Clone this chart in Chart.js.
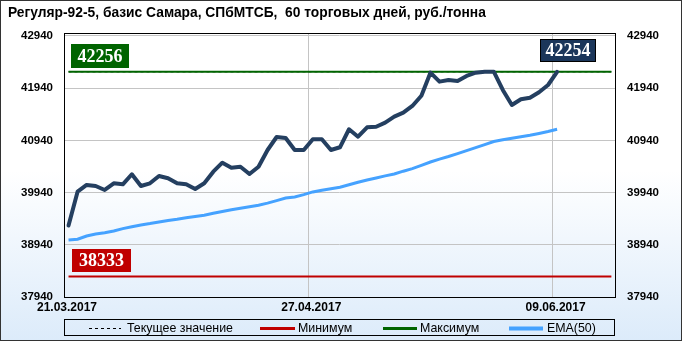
<!DOCTYPE html>
<html><head><meta charset="utf-8">
<script src="https://cdn.jsdelivr.net/npm/chart.js@4.4.1/dist/chart.umd.min.js"></script>
<style>html,body{margin:0;padding:0;background:#fff}#wrap{width:682px;height:341px;position:relative}</style>
</head><body><div id="wrap"><canvas id="c" width="682" height="341"></canvas></div>
<script>
const titleText = 'Регуляр-92-5, базис Самара, СПбМТСБ,  60 торговых дней, руб./тонна';
const dateLabels = ['21.03.2017', '27.04.2017', '09.06.2017'];
const dateTickPos = [-0.5, 26.5, 53.5];
const yTicks = [37940, 38940, 39940, 40940, 41940, 42940];
const price = [39310, 39957, 40086, 40066, 39990, 40118, 40099, 40291, 40066, 40118,
  40258, 40214, 40118, 40099, 40009, 40118, 40340, 40513, 40417, 40436,
  40296, 40436, 40756, 41005, 40986, 40756, 40756, 40961, 40961, 40756,
  40808, 41153, 41011, 41191, 41202, 41279, 41394, 41471, 41599, 41796,
  42237, 42065, 42097, 42078, 42174, 42237, 42256, 42256, 41906, 41618,
  41727, 41758, 41861, 42001, 42254];
const ema50 = [39032, 39047, 39109, 39145, 39170, 39204, 39250, 39287, 39321, 39346,
  39377, 39407, 39429, 39459, 39484, 39507, 39543, 39578, 39610, 39639,
  39668, 39697, 39739, 39787, 39837, 39856, 39900, 39953, 39986, 40013,
  40042, 40091, 40137, 40181, 40220, 40260, 40296, 40350, 40398, 40461,
  40526, 40582, 40632, 40687, 40745, 40802, 40860, 40919, 40951, 40980,
  41009, 41038, 41072, 41109, 41153];
const maxValue = 42256;
const minValue = 38333;
const currentValue = 42254;
const levelSpan = [0, 60];
const legendLabels = ['Текущее значение', 'Минимум', 'Максимум', 'EMA(50)'];

const C_MAIN = '#243f60', C_EMA = '#45a2ff', C_MAX = '#006400', C_MIN = '#c00000';

const pts = arr => arr.map((v, i) => ({x: i, y: v}));
const level = v => levelSpan.map(x => ({x, y: v}));

const bgPlugin = {
  id: 'bg',
  beforeDraw(chart) {
    const ctx = chart.ctx, W = chart.width, H = chart.height;
    ctx.save();
    const g = ctx.createLinearGradient(0, 0, 0, H);
    g.addColorStop(0, '#ffffff');
    g.addColorStop(0.5, '#ffffff');
    g.addColorStop(1, '#dcebfa');
    ctx.fillStyle = g;
    ctx.fillRect(0, 0, W, H);
    ctx.strokeStyle = '#333';
    ctx.lineWidth = 1;
    ctx.strokeRect(0.5, 0.5, W - 1, H - 1);
    ctx.fillStyle = '#000';
    ctx.font = 'bold 13.8px "Liberation Sans", Arial, sans-serif';
    ctx.textBaseline = 'middle';
    ctx.textAlign = 'left';
    ctx.fillText(titleText, 8, 13);
    ctx.restore();
  },
  afterDraw(chart) {
    const ctx = chart.ctx, a = chart.chartArea;
    ctx.save();
    ctx.strokeStyle = '#000';
    ctx.lineWidth = 1;
    ctx.strokeRect(Math.round(a.left) + 0.5, Math.round(a.top) + 0.5, Math.round(a.right - a.left), Math.round(a.bottom - a.top));
    // legend
    const lx = 64, ly = 319.5, lw = 550, lh = 16;
    ctx.strokeRect(lx + 0.5, ly, lw, lh);
    const cy = 328;
    ctx.font = '12.4px "Liberation Sans", Arial, sans-serif';
    ctx.textBaseline = 'middle';
    ctx.textAlign = 'left';
    const items = [
      {x1: 89, x2: 121, tx: 127, color: '#000', w: 1, dash: [3, 3]},
      {x1: 260, x2: 295, tx: 298, color: C_MIN, w: 3, dash: []},
      {x1: 383, x2: 417, tx: 420, color: C_MAX, w: 3, dash: []},
      {x1: 509, x2: 543, tx: 547, color: C_EMA, w: 4, dash: []}
    ];
    items.forEach((it, i) => {
      ctx.beginPath();
      ctx.setLineDash(it.dash);
      ctx.strokeStyle = it.color;
      ctx.lineWidth = it.w;
      ctx.moveTo(it.x1, cy + 0.5);
      ctx.lineTo(it.x2, cy + 0.5);
      ctx.stroke();
      ctx.setLineDash([]);
      ctx.fillStyle = '#000';
      ctx.fillText(legendLabels[i], it.tx, cy + 1);
    });
    ctx.restore();
  },
  afterDatasetsDraw(chart) {
    const ctx = chart.ctx, a = chart.chartArea;
    const xs = chart.scales.x, ys = chart.scales.y;
    ctx.save();
    ctx.font = 'bold 18px "Liberation Serif", "Times New Roman", serif';
    ctx.textAlign = 'center';
    ctx.textBaseline = 'middle';
    const box = (x, yb, w, h, fill, text, border) => {
      ctx.fillStyle = fill;
      ctx.fillRect(x, yb - h, w, h);
      if (border) { ctx.strokeStyle = '#000'; ctx.lineWidth = 1; ctx.strokeRect(x + 0.5, yb - h + 0.5, w - 1, h - 1); }
      ctx.fillStyle = '#fff';
      ctx.fillText(text, x + w / 2, yb - h / 2 + 1);
    };
    box(a.left + 7, Math.round(ys.getPixelForValue(maxValue)) - 4, 58, 24, C_MAX, String(maxValue));
    box(a.left + 8, Math.round(ys.getPixelForValue(minValue)) - 4, 59, 23, C_MIN, String(minValue));
    const li = price.length - 1;
    const px = xs.getPixelForValue(li), py = ys.getPixelForValue(price[li]);
    box(Math.round(px) - 17, Math.round(py) - 10, 56, 23, '#1b365a', String(currentValue), true);
    ctx.restore();
  }
};

const yMin = yTicks[0];
const yMax = yTicks[yTicks.length - 1] + 57;
const tickFont = {family: '"Liberation Sans", Arial, sans-serif', size: 11.5, weight: 'bold'};
const gridDash = {color: '#c4c4c4', lineWidth: 1, borderDash: [4, 3], drawTicks: false};

new Chart(document.getElementById('c'), {
  type: 'line',
  data: {
    datasets: [
      {label: 'price', data: pts(price), borderColor: C_MAIN, borderWidth: 4, pointRadius: 0, tension: 0, borderJoinStyle: 'round', borderCapStyle: 'round', order: 0},
      {label: legendLabels[3], data: pts(ema50), borderColor: C_EMA, borderWidth: 3, pointRadius: 0, tension: 0, order: 1},
      {label: legendLabels[2], data: level(maxValue), borderColor: C_MAX, borderWidth: 2, pointRadius: 0, order: 2},
      {label: legendLabels[1], data: level(minValue), borderColor: C_MIN, borderWidth: 2, pointRadius: 0, order: 2},
      {label: legendLabels[0], data: level(currentValue), borderColor: '#000', borderWidth: 1, borderDash: [3, 3], pointRadius: 0, order: 3}
    ]
  },
  options: {
    responsive: false,
    animation: false,
    events: [],
    layout: {padding: {top: 33, left: 0, right: 0, bottom: 20}},
    plugins: {legend: {display: false}, tooltip: {enabled: false}, title: {display: false}},
    scales: {
      x: {
        type: 'linear', min: -0.5, max: 60.4,
        afterBuildTicks: s => { s.ticks = dateTickPos.map(v => ({value: v})); },
        afterFit: s => { s.height = 24; },
        grid: gridDash,
        border: {display: false},
        ticks: {font: {family: '"Liberation Sans", Arial, sans-serif', size: 12, weight: 'bold'}, color: '#000', padding: 3, labelOffset: 3, maxRotation: 0, autoSkip: false,
          callback: (v, i) => dateLabels[i]}
      },
      y: {
        position: 'left', min: yMin, max: yMax,
        afterBuildTicks: s => { s.ticks = yTicks.map(v => ({value: v})); },
        afterFit: s => { s.width = 64; },
        grid: gridDash,
        border: {display: false},
        ticks: {font: tickFont, color: '#000', padding: 11, callback: v => String(v)}
      },
      y2: {
        position: 'right', min: yMin, max: yMax,
        afterBuildTicks: s => { s.ticks = yTicks.map(v => ({value: v})); },
        afterFit: s => { s.width = 67; },
        grid: {display: false, drawTicks: false},
        border: {display: false},
        ticks: {font: tickFont, color: '#000', padding: 12, callback: v => String(v)}
      }
    }
  },
  plugins: [bgPlugin]
});
</script></body></html>
